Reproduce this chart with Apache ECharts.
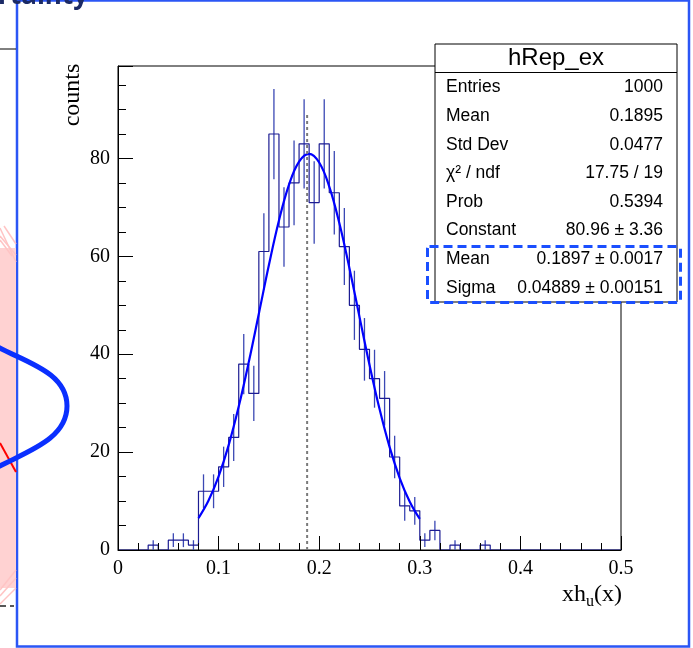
<!DOCTYPE html>
<html><head><meta charset="utf-8">
<script src="https://cdn.jsdelivr.net/npm/echarts@6/dist/echarts.min.js"></script>
<style>html,body{margin:0;padding:0;background:#fff}#c{width:693px;height:648px}</style>
</head><body><div id="c"></div>
<script>
// ---- data ----
const binWidth = 0.01;
const counts = [0,0,0,1,0,2,2,1,12,12,17,23,38,32,61,85,66,75,83,71,83,73,62,50,41,35,31,19,9,8,2,4,0,1,0,0,1,0,0,0,0,0,0,0,0,0,0,0,0,0];
const errors = [0,0,0,1,0,1.41,1.41,1,3.46,3.46,4.12,4.80,6.16,5.66,7.81,9.22,8.12,8.66,9.11,8.43,9.11,8.54,7.87,7.07,6.40,5.92,5.57,4.36,3.00,2.83,1.41,2.00,0,1,0,0,1,0,0,0,0,0,0,0,0,0,0,0,0,0];
const fitX = [0.08,0.09,0.10,0.11,0.12,0.13,0.14,0.15,0.16,0.17,0.18,0.19,0.20,0.21,0.22,0.23,0.24,0.25,0.26,0.27,0.28,0.29,0.30];
const fitY = [6.53,10.12,15.04,21.44,29.31,38.41,48.29,58.22,67.32,74.65,79.38,80.96,79.18,74.27,66.81,57.64,47.69,37.84,28.79,21.01,14.71,9.87,6.35];
const meanLineX = 0.188;
const meanLineTop = 89.5;
const xTickLabels = ['0','0.1','0.2','0.3','0.4','0.5'];
const yTickLabels = ['0','20','40','60','80'];
const statsTitle = 'hRep_ex';
const statsLabels = ['Entries','Mean','Std Dev','χ² / ndf','Prob','Constant','Mean','Sigma'];
const statsValues = ['1000','0.1895','0.0477','17.75 / 19','0.5394','80.96 ± 3.36','0.1897 ± 0.0017','0.04889 ± 0.00151'];

// ---- derived tables ----
const stepData = counts.map((c, i) => [i * binWidth, c]);
stepData.push([counts.length * binWidth, counts[counts.length - 1]]);
const errData = [];
counts.forEach((c, i) => { if (c > 0) errData.push([(i + 0.5) * binWidth, c, errors[i]]); });
const fitData = fitX.map((x, i) => [x, fitY[i]]);

const serif = "'Liberation Serif','Times New Roman',serif";
const sans = "'Liberation Sans',Arial,Helvetica,sans-serif";

const chart = echarts.init(document.getElementById('c'), null, {renderer: 'canvas'});

const graphics = [];
// canvas frame (blue)
graphics.push({type: 'rect', z: 40, silent: true, shape: {x: 17, y: 0.5, width: 672, height: 646}, style: {fill: null, stroke: '#2b56f5', lineWidth: 2.5}});
// left decorations (neighbouring figure)
graphics.push({type: 'rect', z: 41, silent: true, shape: {x: 0, y: 248, width: 16, height: 340}, style: {fill: '#ffd2d2'}});
[[0,228,16,262],[0,236,16,255],[4,226,16,244],[0,240,12,256],[0,596,16,578],[0,604,16,588],[0,590,16,570]].forEach(s => {
  graphics.push({type: 'line', z: 42, silent: true, shape: {x1: s[0], y1: s[1], x2: s[2], y2: s[3]}, style: {stroke: '#ffc4c4', lineWidth: 1.5}});
});
graphics.push({type: 'line', z: 43, silent: true, shape: {x1: 0, y1: 443, x2: 16, y2: 472}, style: {stroke: '#ff0000', lineWidth: 2}});
graphics.push({type: 'bezierCurve', z: 44, silent: true, shape: {x1: -4, y1: 346, cpx1: 25, cpy1: 362, cpx2: 67, cpy2: 372, x2: 67, y2: 406}, style: {fill: null, stroke: '#0a2fff', lineWidth: 5}});
graphics.push({type: 'bezierCurve', z: 44, silent: true, shape: {x1: 67, y1: 406, cpx1: 67, cpy1: 440, cpx2: 25, cpy2: 452, x2: -4, y2: 468}, style: {fill: null, stroke: '#0a2fff', lineWidth: 5}});
graphics.push({type: 'line', z: 43, silent: true, shape: {x1: 0, y1: 49, x2: 16, y2: 49}, style: {stroke: '#000', lineWidth: 1}});
graphics.push({type: 'line', z: 43, silent: true, shape: {x1: 0, y1: 606, x2: 14, y2: 606}, style: {stroke: '#222', lineWidth: 1.5, lineDash: [6, 4]}});
graphics.push({type: 'text', z: 45, silent: true, x: 88, y: 10, style: {text: 'Uncertainty', textAlign: 'right', textVerticalAlign: 'bottom', font: "bold 26px 'Open Sans',sans-serif", fill: '#1b2a66'}});
// axis titles
graphics.push({type: 'text', z: 30, silent: true, x: 73, y: 95, rotation: Math.PI / 2, style: {text: 'counts', textAlign: 'center', textVerticalAlign: 'middle', font: '24px ' + serif, fill: '#000'}});
graphics.push({type: 'text', z: 30, silent: true, x: 622, y: 595, style: {text: '{a|xh}{b|u}{a|(x)}', textAlign: 'right', textVerticalAlign: 'middle',
  rich: {a: {fontSize: 24, fontFamily: serif, lineHeight: 30, fill: '#000'}, b: {fontSize: 16, fontFamily: serif, lineHeight: 12, verticalAlign: 'bottom', fill: '#000'}}}});
// stats box
graphics.push({type: 'rect', z: 100, silent: true, shape: {x: 435, y: 44, width: 242, height: 258}, style: {fill: '#fff', stroke: '#000', lineWidth: 1}});
graphics.push({type: 'line', z: 101, silent: true, shape: {x1: 435, y1: 72.5, x2: 677, y2: 72.5}, style: {stroke: '#000', lineWidth: 1}});
graphics.push({type: 'text', z: 101, silent: true, x: 556, y: 58, style: {text: statsTitle, textAlign: 'center', textVerticalAlign: 'middle', font: '24px ' + sans, fill: '#000'}});
statsLabels.forEach((lab, i) => {
  const y = 87.5 + i * 28.6;
  graphics.push({type: 'text', z: 101, silent: true, x: 446, y: y, style: {text: lab, textAlign: 'left', textVerticalAlign: 'middle', font: '17.5px ' + sans, fill: '#000'}});
  graphics.push({type: 'text', z: 101, silent: true, x: 663, y: y, style: {text: statsValues[i], textAlign: 'right', textVerticalAlign: 'middle', font: '17.5px ' + sans, fill: '#000'}});
});
graphics.push({type: 'rect', z: 102, silent: true, shape: {x: 427.5, y: 246.5, width: 253, height: 56, r: 2}, style: {fill: null, stroke: '#1a4fff', lineWidth: 3, lineDash: [9, 5]}});

chart.setOption({
  animation: false,
  backgroundColor: '#fff',
  grid: {left: 118, right: 72, top: 66, bottom: 98, show: true, borderColor: '#000', borderWidth: 1, backgroundColor: 'transparent'},
  xAxis: {
    type: 'value', min: 0, max: 0.5, interval: 0.1, z: 5,
    axisLine: {show: true, onZero: false, lineStyle: {color: '#000', width: 1}},
    axisTick: {show: true, inside: true, length: 14, lineStyle: {color: '#000', width: 1}},
    minorTick: {show: true, splitNumber: 5, length: 7, lineStyle: {color: '#000', width: 1}},
    splitLine: {show: false}, minorSplitLine: {show: false},
    axisLabel: {margin: 9, color: '#000', fontSize: 20, fontFamily: serif,
      formatter: v => xTickLabels[Math.round(v / 0.1)] || ''}
  },
  yAxis: {
    type: 'value', min: 0, max: 98.9, interval: 20, z: 5,
    axisLine: {show: true, onZero: false, lineStyle: {color: '#000', width: 1}},
    axisTick: {show: true, inside: true, length: 15, lineStyle: {color: '#000', width: 1}},
    minorTick: {show: true, splitNumber: 4, length: 8, lineStyle: {color: '#000', width: 1}},
    splitLine: {show: false}, minorSplitLine: {show: false},
    axisLabel: {margin: 8, color: '#000', fontSize: 20, fontFamily: serif, showMaxLabel: false, padding: [4, 0, 0, 0],
      formatter: v => (Math.abs(v % 20) < 1e-9 ? (yTickLabels[Math.round(v / 20)] || '') : '')}
  },
  series: [
    {
      type: 'custom', name: 'errors', z: 3, silent: true,
      data: errData,
      renderItem: (params, api) => {
        const x = api.value(0), c = api.value(1), e = api.value(2);
        const p1 = api.coord([x, c - e]);
        const p2 = api.coord([x, c + e]);
        return {type: 'line', shape: {x1: p1[0], y1: p1[1], x2: p2[0], y2: p2[1]}, style: {stroke: '#3b48b4', lineWidth: 1.3}};
      }
    },
    {
      type: 'line', name: 'hist', step: 'end', data: stepData, z: 4, silent: true,
      showSymbol: false, symbol: 'none',
      lineStyle: {color: '#1c1c92', width: 1.2}
    },
    {
      type: 'line', name: 'fit', data: fitData, smooth: 0.4, z: 6, silent: true,
      showSymbol: false, symbol: 'none',
      lineStyle: {color: '#0000ff', width: 2.2}
    },
    {
      type: 'line', name: 'mean', data: [[meanLineX, 0], [meanLineX, meanLineTop]], z: 7, silent: true,
      showSymbol: false, symbol: 'none',
      lineStyle: {color: '#7a7a7a', width: 2, type: [3, 3]}
    }
  ],
  graphic: graphics
});
</script></body></html>
